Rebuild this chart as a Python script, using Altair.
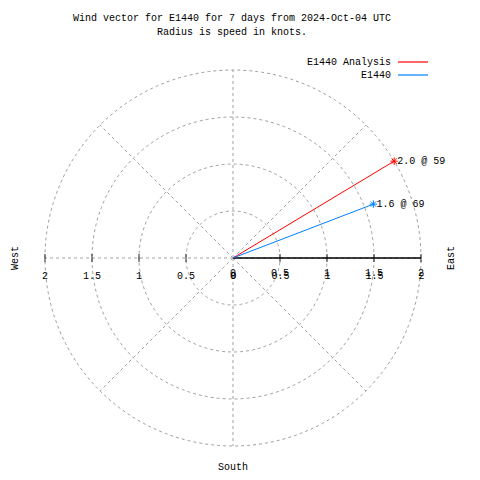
import altair as alt
import numpy as np
import pandas as pd

# ---- data ----
series_names = ["E1440 Analysis", "E1440"]
series_colors = ["#ff0000", "#0080ff"]
speeds = [2.0, 1.6]          # knots
directions = [59, 69]        # degrees (compass, from north)
ring_radii = [0.5, 1.0, 1.5, 2.0]
spoke_angles = [0, 45, 90, 135, 180, 225, 270, 315]
tick_values = [0.5, 1.0, 1.5, 2.0]
left_labels = ["2", "1.5", "1", "0.5", "0"]
left_label_pos = [-2.0, -1.5, -1.0, -0.5, 0.0]
right_labels = ["0", "0.5", "1", "1.5", "2"]
right_label_pos = [0.0, 0.5, 1.0, 1.5, 2.0]
title_lines = ["Wind vector for E1440 for 7 days from 2024-Oct-04 UTC",
               "Radius is speed in knots."]

FONT = "Liberation Mono"
FS = 10

# ---- geometry in knots ----
rad = np.deg2rad(directions)
vec = pd.DataFrame({
    "name": series_names,
    "x0": 0.0, "y0": 0.0,
    "x1": np.array(speeds) * np.sin(rad),
    "y1": np.array(speeds) * np.cos(rad),
    "label": [f"{s:.1f} @ {d}" for s, d in zip(speeds, directions)],
})

th = np.linspace(0, 2 * np.pi, 241)
rings = pd.concat([
    pd.DataFrame({"ring": r, "i": np.arange(len(th)), "x": r * np.cos(th), "y": r * np.sin(th)})
    for r in ring_radii
])

sa = np.deg2rad(spoke_angles)
spokes = pd.DataFrame({
    "x0": 0.0, "y0": 0.0,
    "x1": max(ring_radii) * np.cos(sa),
    "y1": max(ring_radii) * np.sin(sa),
})

ticks = pd.DataFrame({"x": [-v for v in tick_values] + tick_values, "y": 0.0})
axis_line = pd.DataFrame({"x0": [0.0], "x1": [max(ring_radii)], "y": [0.0]})
lab_left = pd.DataFrame({"x": left_label_pos, "y": 0.0, "t": left_labels})
lab_right = pd.DataFrame({"x": right_label_pos, "y": 0.0, "t": right_labels})

# scale: 94 px per knot, centre at chart pixel (225, 250)
W, H = 464, 464
PPK = 94.0
CX, CY = 225.0, 250.0
xs = alt.Scale(domain=[-CX / PPK, (W - CX) / PPK], nice=False, zero=False)
ys = alt.Scale(domain=[-(H - CY) / PPK, CY / PPK], nice=False, zero=False)
X = lambda f: alt.X(f, type="quantitative", scale=xs, axis=None)
Y = lambda f: alt.Y(f, type="quantitative", scale=ys, axis=None)

grid_color = "#a0a0a0"
dash = [3, 3]

ring_layer = alt.Chart(rings).mark_line(color=grid_color, strokeWidth=1, strokeDash=dash).encode(
    x=X("x"), y=Y("y"), detail="ring:N", order="i:Q")

spoke_layer = alt.Chart(spokes).mark_rule(color=grid_color, strokeWidth=1, strokeDash=dash).encode(
    x=X("x0"), y=Y("y0"), x2="x1", y2="y1")

axis_layer = alt.Chart(axis_line).mark_rule(color="black", strokeWidth=1.5).encode(
    x=X("x0"), x2="x1", y=Y("y"))

tick_layer = alt.Chart(ticks).mark_tick(orient="vertical", color="black", size=8, thickness=1.2).encode(
    x=X("x"), y=Y("y"))

text_base = dict(font=FONT, fontSize=FS, color="black", align="center", baseline="middle")
left_lab_layer = alt.Chart(lab_left).mark_text(dy=18, **text_base).encode(x=X("x"), y=Y("y"), text="t")
right_lab_layer1 = alt.Chart(lab_right).mark_text(dy=15, **text_base).encode(x=X("x"), y=Y("y"), text="t")
right_lab_layer2 = alt.Chart(lab_right).mark_text(dy=18, dx=0.5, **text_base).encode(x=X("x"), y=Y("y"), text="t")

color = alt.Color("name:N", scale=alt.Scale(domain=series_names, range=series_colors), legend=None)

vec_layer = alt.Chart(vec).mark_rule(strokeWidth=1).encode(
    x=X("x0"), y=Y("y0"), x2="x1", y2="y1", color=color)

star = "M-1,0L1,0M0,-1L0,1M-0.7,-0.7L0.7,0.7M-0.7,0.7L0.7,-0.7"
star_layer = alt.Chart(vec).mark_point(shape=star, size=56, filled=False, strokeWidth=1, opacity=1).encode(
    x=X("x1"), y=Y("y1"), color=color)

vlabel_layer = alt.Chart(vec).mark_text(font=FONT, fontSize=FS, color="black", align="left",
                                        baseline="middle", dx=3).encode(x=X("x1"), y=Y("y1"), text="label")

# ---- annotations (page layout) ----
def label(txt, x, y, **kw):
    opts = dict(text_base)
    opts.update(kw)
    return alt.Chart(pd.DataFrame({"t": [txt]})).mark_text(**opts).encode(
        x=alt.value(x), y=alt.value(y), text="t")

title1 = label(title_lines[0], 224, 10)
title2 = label(title_lines[1], 224, 24)

leg_text1 = label(series_names[0], 383, 54, align="right")
leg_text2 = label(series_names[1], 383, 67, align="right")
leg_line1 = alt.Chart(pd.DataFrame({"name": [series_names[0]]})).mark_rule(strokeWidth=1.2).encode(
    x=alt.value(390), x2=alt.value(420), y=alt.value(54), color=color)
leg_line2 = alt.Chart(pd.DataFrame({"name": [series_names[1]]})).mark_rule(strokeWidth=1.2).encode(
    x=alt.value(390), x2=alt.value(420), y=alt.value(67), color=color)

west = label("West", 7, 250, angle=270)
east = label("East", 443, 250, angle=270)
south = label("South", 225, 459)

chart = alt.layer(
    ring_layer, spoke_layer, axis_layer, tick_layer,
    left_lab_layer, right_lab_layer1, right_lab_layer2,
    vec_layer, star_layer, vlabel_layer,
    title1, title2, leg_text1, leg_text2, leg_line1, leg_line2, west, east, south,
).properties(
    width=W, height=H,
    autosize=alt.AutoSizeParams(type="none"),
    padding=0,
).configure_view(stroke=None)

chart.save("out.html", embed_options={"renderer": "svg", "actions": False})
